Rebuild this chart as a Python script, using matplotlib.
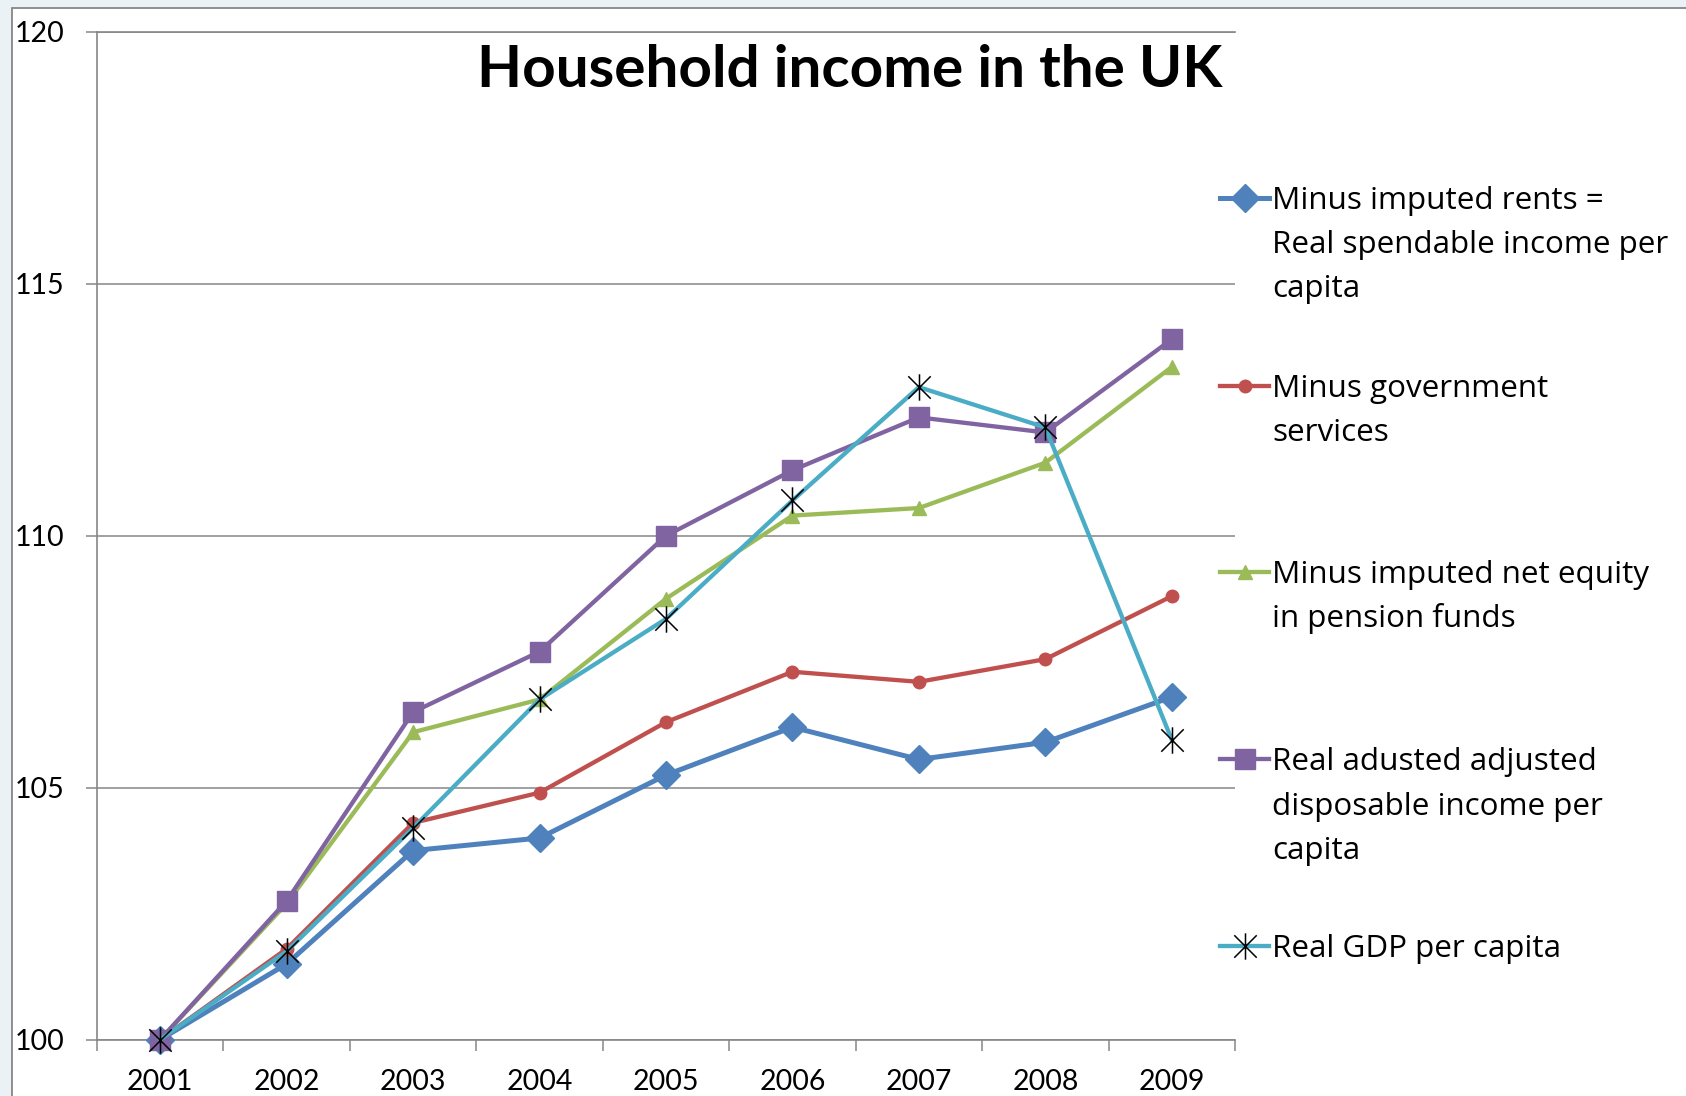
import matplotlib
matplotlib.use("Agg")
import matplotlib.pyplot as plt
from matplotlib.path import Path
from matplotlib.lines import Line2D
from matplotlib.patches import Rectangle
import numpy as np

plt.rcParams['font.family'] = ['Lato', 'DejaVu Sans']

# ---------------- data ----------------
years = ["2001", "2002", "2003", "2004", "2005", "2006", "2007", "2008", "2009"]
minus_imputed_rents = [100.0, 101.5, 103.75, 104.0, 105.25, 106.2, 105.56, 105.9, 106.8]
minus_gov_services = [100.0, 101.8, 104.3, 104.9, 106.3, 107.3, 107.1, 107.55, 108.8]
minus_pension_equity = [100.0, 102.7, 106.1, 106.75, 108.75, 110.4, 110.55, 111.45, 113.35]
real_adjusted_disposable = [100.0, 102.75, 106.5, 107.7, 110.0, 111.3, 112.35, 112.05, 113.9]
real_gdp = [100.0, 101.75, 104.2, 106.75, 108.35, 110.7, 112.95, 112.15, 105.95]

labels = [
    ["Minus imputed rents =", "Real spendable income per", "capita"],
    ["Minus government", "services"],
    ["Minus imputed net equity", "in pension funds"],
    ["Real adusted adjusted", "disposable income per", "capita"],
    ["Real GDP per capita"],
]
title = "Household income in the UK"
yticks = [100, 105, 110, 115, 120]

# ---------------- styles ----------------
W, H = 1686, 1096
DPI = 100
grey = "#868686"

star = Path([(0, -1), (0, 1), (-0.85, -0.85), (0.85, 0.85), (-0.85, 0.85), (0.85, -0.85)],
            [Path.MOVETO, Path.LINETO, Path.MOVETO, Path.LINETO, Path.MOVETO, Path.LINETO])

styles = [
    dict(color="#4F81BD", lw=3.6, marker="D", ms=14, mfc="#4F81BD", mec="#4F81BD", mew=1),
    dict(color="#C0504D", lw=3.1, marker="o", ms=9, mfc="#C0504D", mec="#C0504D", mew=1),
    dict(color="#9BBB59", lw=3.1, marker="^", ms=10, mfc="#9BBB59", mec="#9BBB59", mew=1),
    dict(color="#8064A2", lw=3.1, marker="s", ms=14, mfc="#8064A2", mec="#8064A2", mew=1),
    dict(color="#4BACC6", lw=3.1, marker=star, ms=19, mfc="none", mec="black", mew=1.1),
]
series = [minus_imputed_rents, minus_gov_services, minus_pension_equity,
          real_adjusted_disposable, real_gdp]

fig = plt.figure(figsize=(W / DPI, H / DPI), dpi=DPI)
fig.patch.set_facecolor("#EBF2F5")

# white chart panel with border
panel = Rectangle((12 / W, -0.01), 1.02, 1 - 8 / H + 0.01, transform=fig.transFigure,
                  facecolor="white", edgecolor=grey, linewidth=1.3, zorder=0)
fig.add_artist(panel)

ax = fig.add_axes([97 / W, 1 - 1039.5 / H, (1235 - 97) / W, (1039.5 - 32) / H])
ax.set_facecolor("none")

x = np.arange(len(years))
for s, st in zip(series, styles):
    ax.plot(x, s, zorder=3, clip_on=False, **st)

ax.set_xlim(-0.5, len(years) - 0.5)
ax.set_ylim(100, 120)
ax.set_yticks(yticks)
ax.set_yticklabels([str(v) for v in yticks])
ax.set_xticks(x)
ax.set_xticklabels(years)
ax.set_xticks(np.arange(len(years) + 1) - 0.5, minor=True)

ax.spines["right"].set_visible(False)
for sp in ["left", "bottom", "top"]:
    ax.spines[sp].set_color(grey)
    ax.spines[sp].set_linewidth(1.2)

ax.yaxis.grid(True, color=grey, linewidth=1.1)
ax.set_axisbelow(True)

ax.tick_params(axis="y", direction="out", length=8, width=1.1, color=grey,
               labelsize=20.5, pad=51, labelcolor="black")
for lab in ax.get_yticklabels():
    lab.set_horizontalalignment("left")
ax.tick_params(axis="x", which="major", length=0, labelsize=20.5, pad=21.5, labelcolor="black")
ax.tick_params(axis="x", which="minor", direction="out", length=8, width=1.1, color=grey)

# title
fig.text(850 / W, 1 - 87 / H, title, ha="center", va="baseline",
         fontsize=42, fontweight="bold", color="black")

# legend (manual, Excel style)
entry_y = [197.5, 385.5, 572, 759, 946]
line_gap = 44.5
for st, lab, yc in zip(styles, labels, entry_y):
    yf = 1 - yc / H
    fig.add_artist(Line2D([1220 / W, 1269 / W], [yf, yf], transform=fig.transFigure,
                          color=st["color"], lw=st["lw"]))
    fig.add_artist(Line2D([1244.5 / W], [yf], transform=fig.transFigure, linestyle="none",
                          marker=st["marker"], ms=st["ms"], mfc=st["mfc"], mec=st["mec"],
                          mew=st["mew"]))
    for i, line in enumerate(lab):
        fig.text(1272 / W, 1 - (yc + 11 + i * line_gap) / H, line, ha="left",
                 va="baseline", fontsize=22.6, color="black",
                 family=["Open Sans", "DejaVu Sans"])

fig.savefig("out.png", dpi=DPI, facecolor=fig.get_facecolor())
